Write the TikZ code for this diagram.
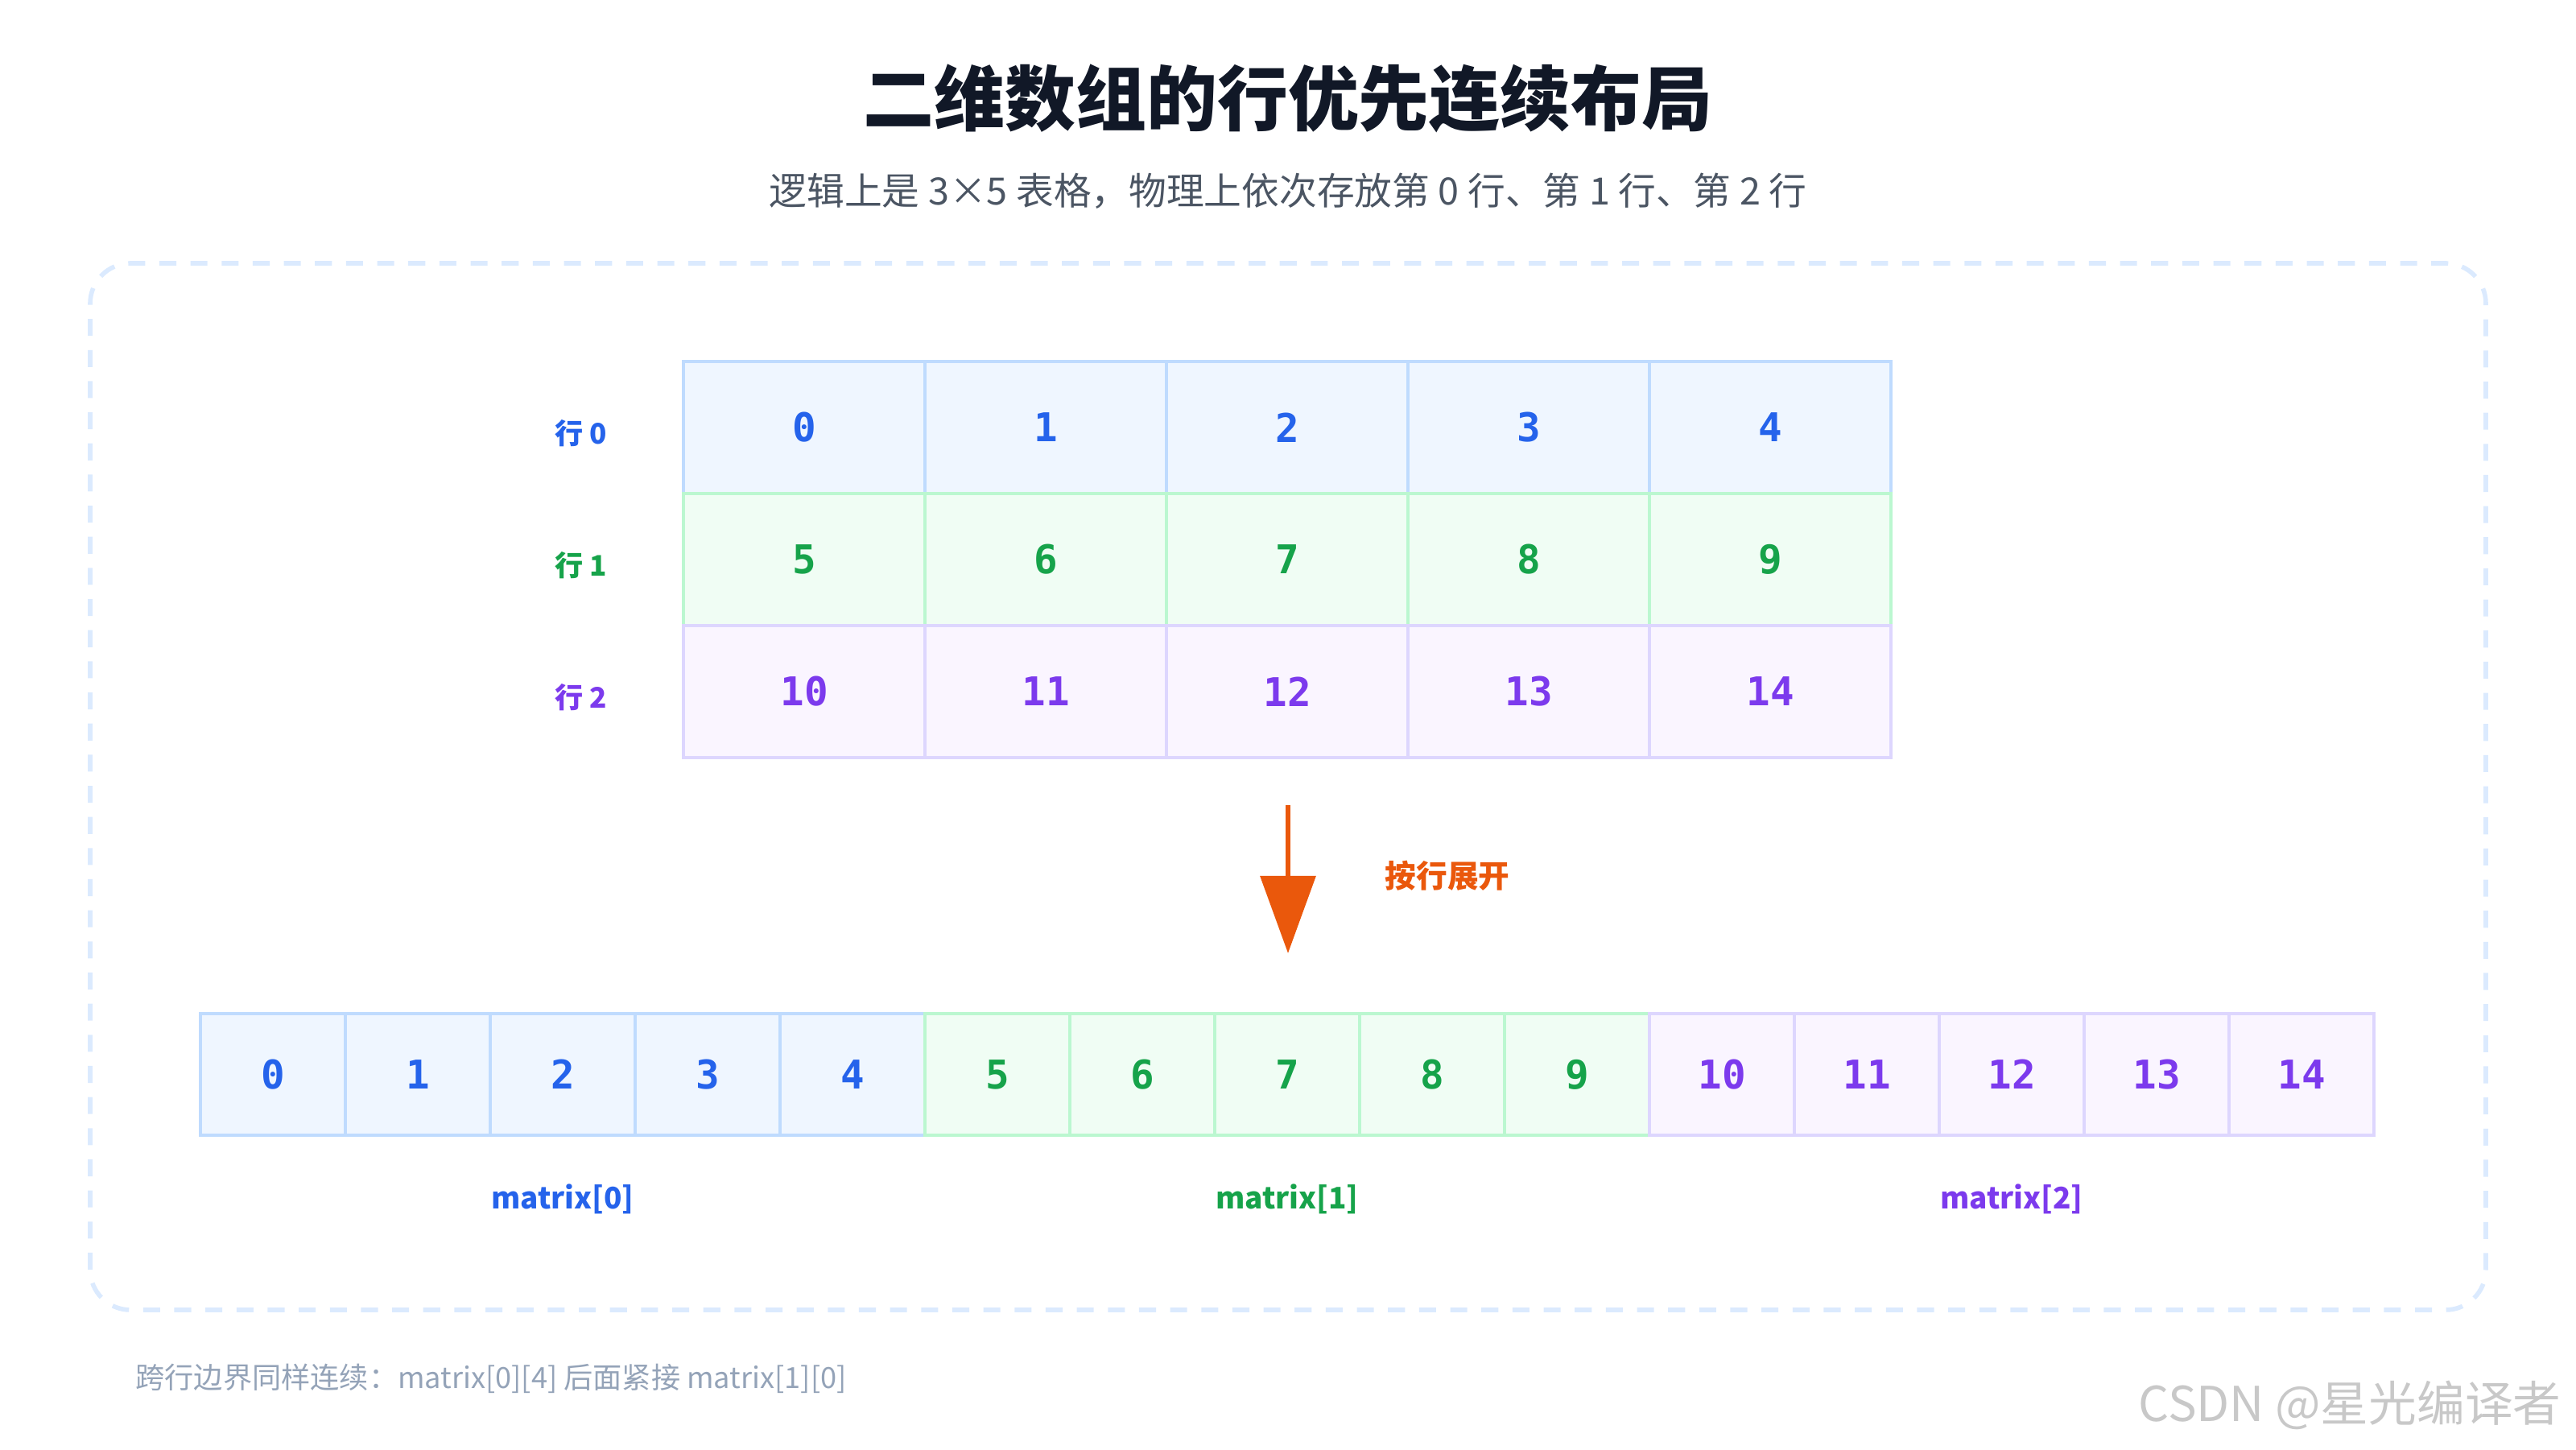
\documentclass[tikz,border=0pt]{standalone}
\usepackage{fontspec}
\setmainfont{Noto Sans CJK SC}
\setmonofont{DejaVu Sans Mono}
\usetikzlibrary{positioning,arrows.meta}
\definecolor{blueT}{HTML}{2563EB}\definecolor{blueF}{HTML}{EFF6FF}\definecolor{blueD}{HTML}{BFDBFE}
\definecolor{greenT}{HTML}{16A34A}\definecolor{greenF}{HTML}{F0FDF4}\definecolor{greenD}{HTML}{BBF7D0}
\definecolor{purpT}{HTML}{7C3AED}\definecolor{purpF}{HTML}{FAF5FF}\definecolor{purpD}{HTML}{DDD6FE}
\definecolor{orangeT}{HTML}{EA580C}\definecolor{frameD}{HTML}{DBEAFE}
\definecolor{titleC}{HTML}{111827}\definecolor{subC}{HTML}{4B5563}
\definecolor{noteC}{HTML}{94A3B8}\definecolor{wmC}{HTML}{C8C8C8}
\tikzset{
every picture/.style={
line width=1pt
}}
\begin{document}
\begin{tikzpicture}[
cell/.style = {rectangle, draw=#1D, fill=#1F, text=#1T, line width=1.2pt, inner sep=0pt,
  font=\ttfamily\bfseries\fontsize{14}{17}\selectfont},
bigcell/.style = {cell=#1, minimum width=3cm, minimum height=1.64cm},
smallcell/.style = {cell=#1, minimum width=1.8cm, minimum height=1.51cm},
rowlabel/.style = {text=#1T, font=\bfseries\fontsize{10}{12}\selectfont},
grouplabel/.style = {text=#1T, font=\bfseries\fontsize{10.5}{13}\selectfont}]
\useasboundingbox (0,0) rectangle (32,18);
% frame
\draw[frameD, line width=1.6pt, dash pattern=on 6pt off 5pt, rounded corners=0.5cm]
  (1.12,1.73) rectangle (30.88,14.73);
\node[font=\bfseries\fontsize{25}{30}\selectfont, text=titleC] (title) at (16,16.78) {二维数组的行优先连续布局};
\node[font=\fontsize{13.3}{16}\selectfont, text=subC] (sub) at (16,15.63)
  {逻辑上是 3×5 表格，物理上依次存放第 0 行、第 1 行、第 2 行};
% logical table
\foreach \r/\c in {0/blue,1/green,2/purp}{
  \node[rowlabel=\c] (lab\r) at (7.22,12.62-1.64*\r) {行 \r};
  \foreach \k in {0,...,4}{
    \pgfmathtruncatemacro\v{5*\r+\k}
    \node[bigcell=\c] (t\v) at (9.99+3*\k,12.69-1.64*\r) {\v};
  }
}
% flat array
\foreach \v in {0,...,14}{
  \pgfmathtruncatemacro\g{\v/5}
  \ifcase\g \def\c{blue}\or \def\c{green}\else \def\c{purp}\fi
  \node[smallcell=\c] (f\v) at (3.39+1.8*\v,4.655) {\v};
}
\node[grouplabel=blue,  below=0.45cm of f2]  (m0) {matrix[0]};
\node[grouplabel=green, below=0.45cm of f7]  (m1) {matrix[1]};
\node[grouplabel=purp,  below=0.45cm of f12] (m2) {matrix[2]};
% arrow
\coordinate (a0) at (16,8.0);
\coordinate (a1) at (16,6.16);
\draw[orangeT, line width=1.8pt, -{Triangle[width=0.68cm,length=0.96cm]}] (a0) -- (a1);
\node[text=orangeT, font=\bfseries\fontsize{11}{13}\selectfont] (unroll) at (17.98,7.12) {按行展开};
\node[anchor=west, text=noteC, font=\fontsize{10.3}{13}\selectfont] (note) at (1.55,0.88)
  {跨行边界同样连续：matrix[0][4] 后面紧接 matrix[1][0]};
\node[anchor=east, text=wmC, font=\fontsize{17}{20}\selectfont] (wm) at (31.95,0.55) {CSDN @星光编译者};
\end{tikzpicture}
\end{document}
